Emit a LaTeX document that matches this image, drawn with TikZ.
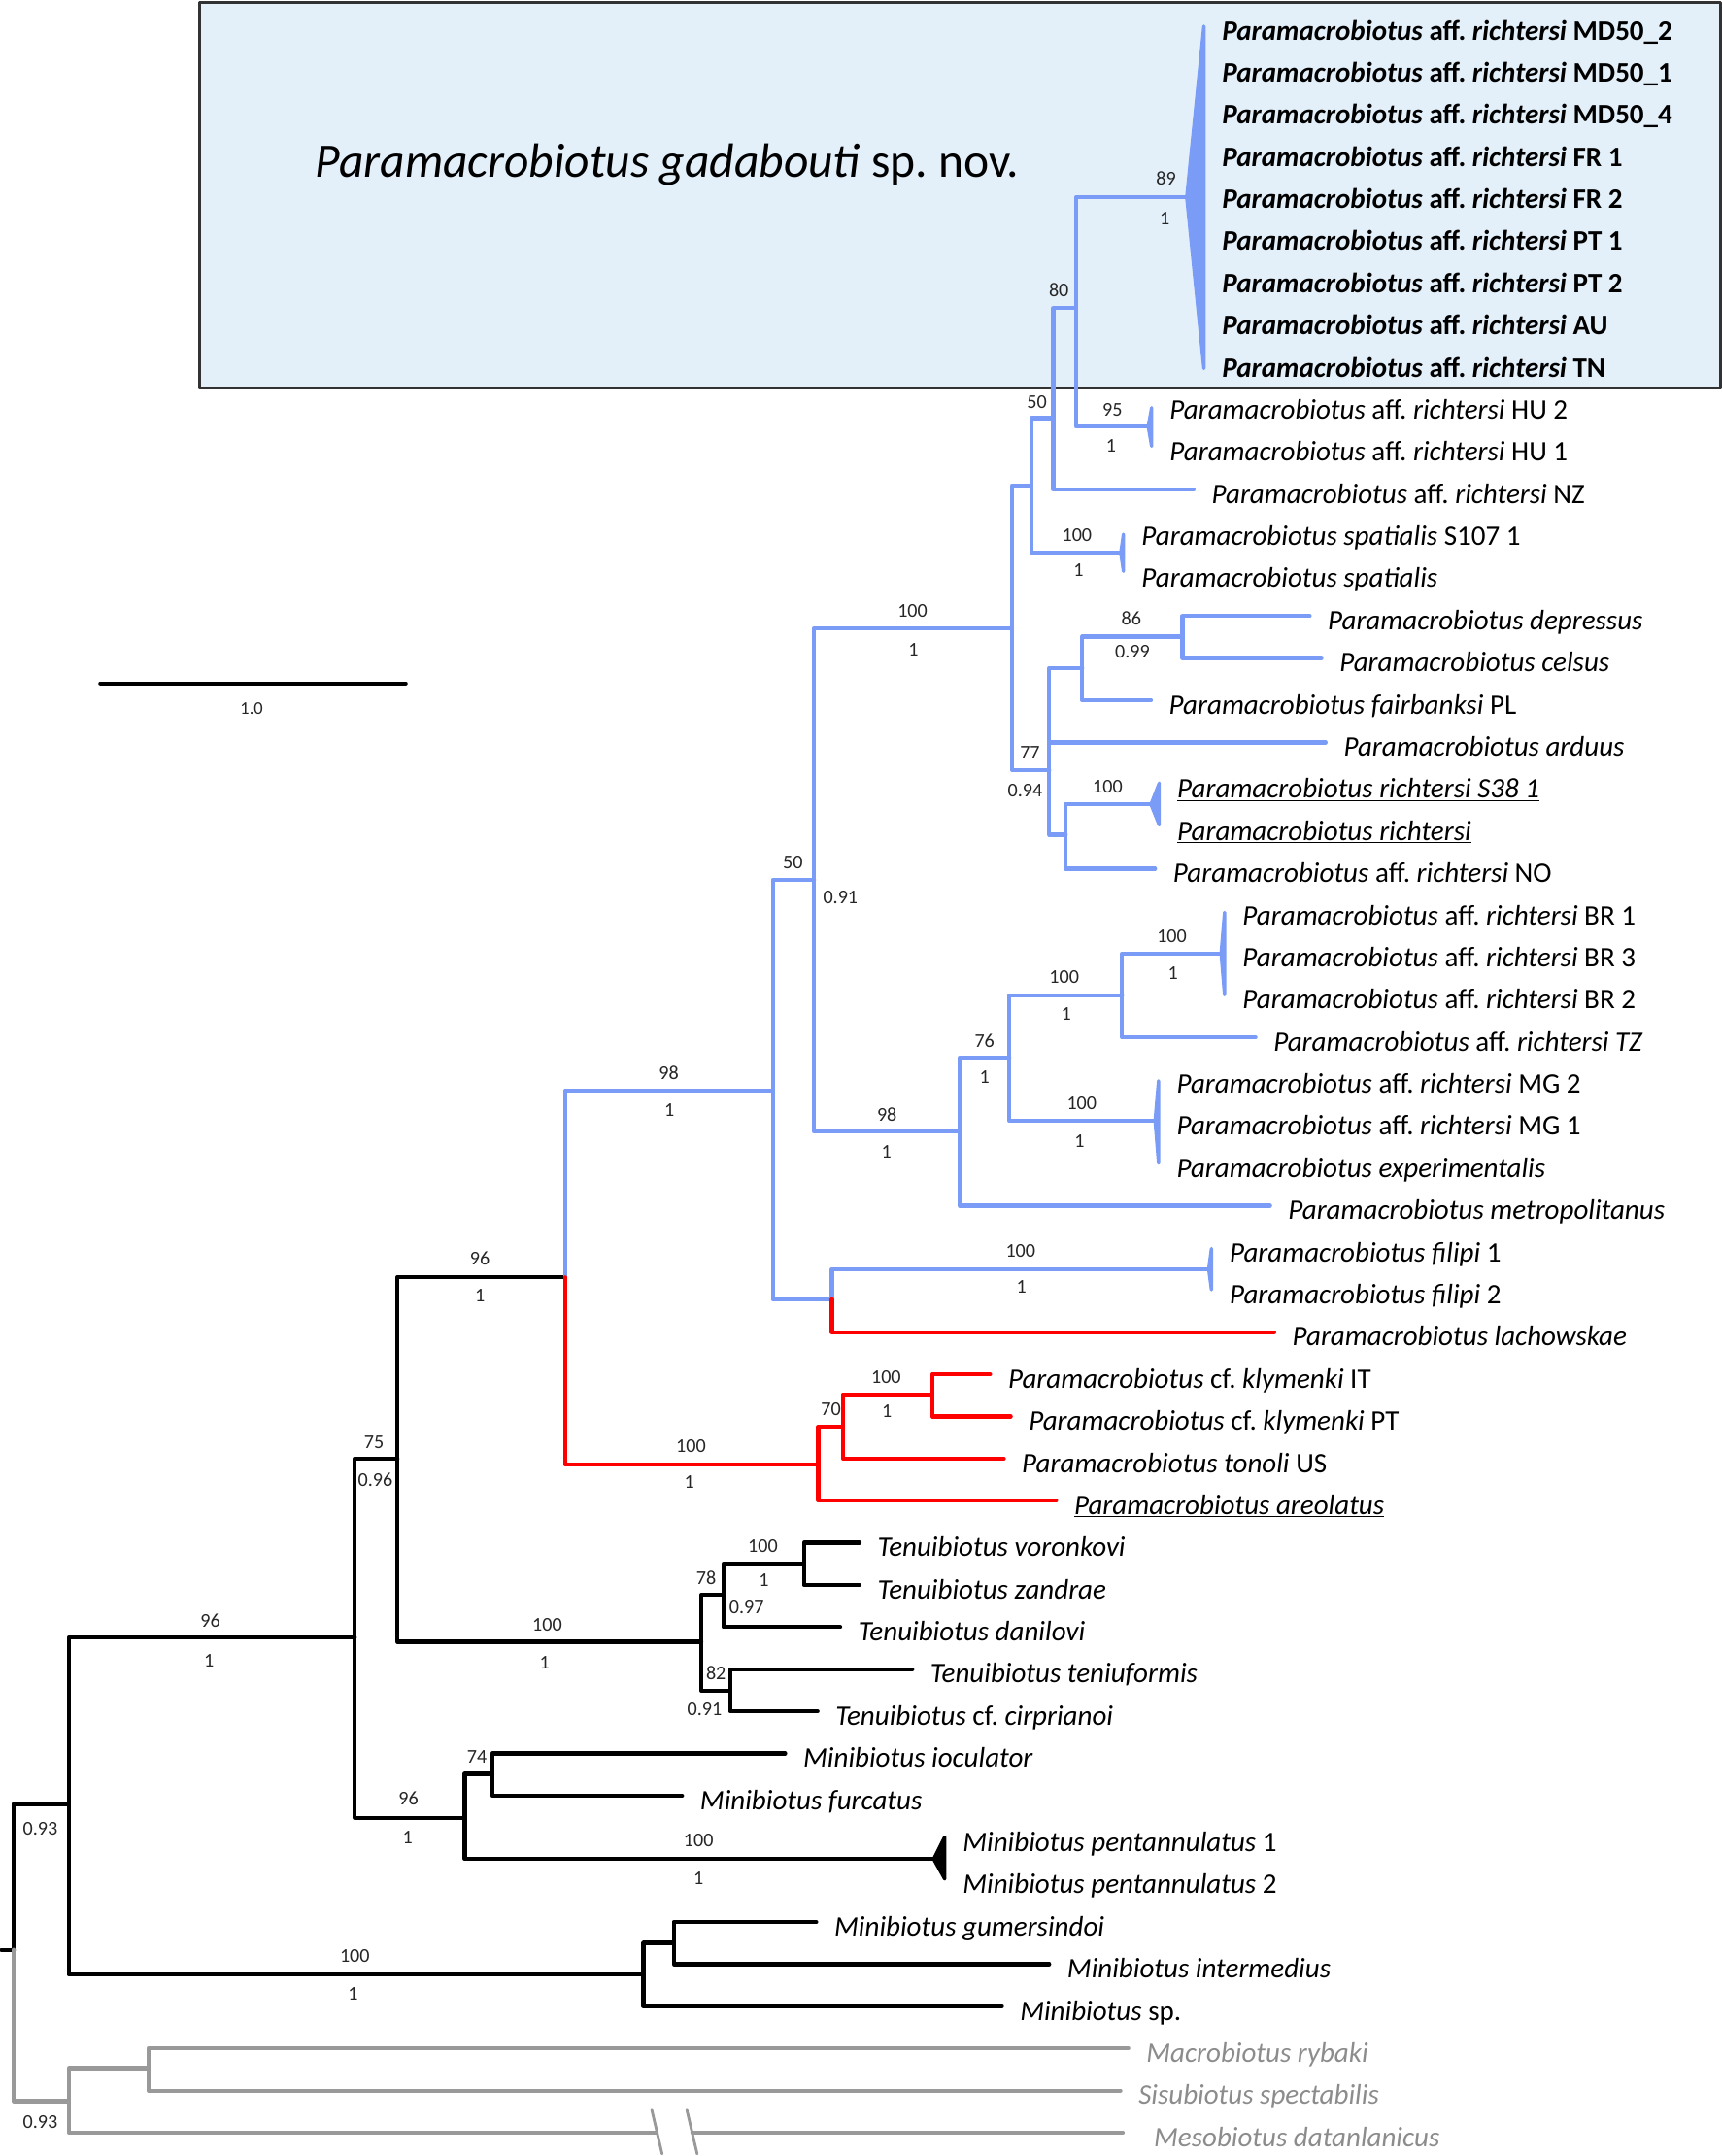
\documentclass[tikz,border=0pt]{standalone}
\usepackage{fontspec}
\setmainfont{Carlito}
\usepackage{tikz}
\usetikzlibrary{calc}
\definecolor{treeblue}{RGB}{122,156,246}
\definecolor{treered}{RGB}{255,0,0}
\definecolor{treegray}{RGB}{153,153,153}
\definecolor{labgray}{RGB}{140,140,140}
\definecolor{boxfill}{RGB}{227,240,250}
\definecolor{boxline}{RGB}{50,50,50}
\newcommand{\tipsize}{\fontsize{20.5}{24}\selectfont}
\newcommand{\supsize}{\fontsize{14.2}{17}\selectfont}
\frenchspacing
\tikzstyle{every path}=[line cap=round,line join=round]
\tikzstyle{br}=[line width=3pt]
\tikzstyle{clps}=[line width=2.4pt]
\tikzstyle{tiplab}=[anchor=base west,inner sep=0pt,xshift=13pt,yshift=-10pt,font=\tipsize]
\tikzstyle{newsp}=[tiplab,font=\tipsize\bfseries]
\tikzstyle{sup}=[inner sep=0pt,font=\supsize,text=black!85]
\begin{document}
\begin{tikzpicture}[x=1pt,y=-1pt]
\useasboundingbox (0,0) rectangle (1252,1568);

\draw [line width=2pt,draw=boxline,fill=boxfill] (145,1.5) rectangle (1251,282.5);
\node [anchor=base west,inner sep=0pt,font=\fontsize{35}{42}\selectfont] (title) at (229,129) {\textit{Paramacrobiotus gadabouti} sp. nov.};

\coordinate (rootstub) at (1,1418);
\coordinate (root) at (10,1418);
\coordinate (nA) at (50,1312);
\coordinate (n96a) at (258,1191);
\coordinate (nMinG) at (468,1436);
\coordinate (n75) at (289,1061);
\coordinate (n96b) at (338,1322);
\coordinate (n96c) at (411,929);
\coordinate (nTen) at (510,1194);
\coordinate (n78) at (526,1160);
\coordinate (n82) at (531,1229.5);
\coordinate (n100d) at (584.6,1137.4);
\coordinate (tDan) at (611,1183.3);
\coordinate (tVor) at (625,1122);
\coordinate (tZan) at (625,1152.7);
\coordinate (tTen) at (663.4,1214);
\coordinate (tCir) at (594.5,1244.6);
\coordinate (n74) at (358,1290);
\coordinate (nPent) at (679,1352);
\coordinate (tIoc) at (571,1275.2);
\coordinate (tFur) at (496,1305.9);
\coordinate (nGI) at (490,1413);
\coordinate (tMsp) at (728.6,1459.1);
\coordinate (tGum) at (593.6,1397.8);
\coordinate (tInt) at (763,1428.4);

\coordinate (n98a) at (562,793);
\coordinate (n50) at (592,640);
\coordinate (nFil) at (605,945);
\coordinate (n100a) at (736,457);
\coordinate (n98b) at (698,823);
\coordinate (n50b) at (750,353);
\coordinate (n77) at (763,560);
\coordinate (n80) at (766,304);
\coordinate (nSpat) at (815,402);
\coordinate (n89) at (782.5,224);
\coordinate (tNZ) at (868,356);
\coordinate (nMD) at (863,143.5);
\coordinate (nHU) at (835,310.2);
\coordinate (n86p) at (787,486);
\coordinate (tArd) at (964,539.9);
\coordinate (nRi) at (775,607);
\coordinate (n86) at (860,463);
\coordinate (tFair) at (837,509.2);
\coordinate (tDep) at (952.4,448);
\coordinate (tCel) at (961,478.6);
\coordinate (nRich) at (837,585);
\coordinate (tNO) at (840,631.8);
\coordinate (n76) at (734,769);
\coordinate (tMet) at (923.6,876.9);
\coordinate (n100b) at (816,724);
\coordinate (nMG) at (840,815);
\coordinate (nBR) at (888,693.5);
\coordinate (tTZ) at (913,754.4);
\coordinate (nFilipi) at (879,923);

\coordinate (nRed) at (595,1065);
\coordinate (tLach) at (926.6,968.8);
\coordinate (n70) at (613,1037.5);
\coordinate (tAre) at (768,1091.4);
\coordinate (n100c) at (678,1014);
\coordinate (tTon) at (730,1060.8);
\coordinate (tKIT) at (720,999.5);
\coordinate (tKPT) at (735,1030.1);

\coordinate (nOut) at (50,1528);
\coordinate (nMS) at (108,1504);
\coordinate (brkL) at (477.5,1551);
\coordinate (brkR) at (503.5,1551);
\coordinate (tMeso) at (816.5,1551);
\coordinate (tRyb) at (820.5,1489.7);
\coordinate (tSis) at (814.8,1520.4);

\draw [br] (rootstub) -- (root);
\draw [br] (root) |- (nA);
\draw [br] (nA) |- (n96a);
\draw [br] (nA) |- (nMinG);
\draw [br] (n96a) |- (n75);
\draw [br] (n96a) |- (n96b);
\draw [br] (n75) |- (n96c);
\draw [br] (n75) |- (nTen);
\draw [br] (nTen) |- (n78);
\draw [br] (nTen) |- (n82);
\draw [br] (n78) |- (n100d);
\draw [br] (n78) |- (tDan);
\draw [br] (n100d) |- (tVor);
\draw [br] (n100d) |- (tZan);
\draw [br] (n82) |- (tTen);
\draw [br] (n82) |- (tCir);
\draw [br] (n96b) |- (n74);
\draw [br] (n96b) |- (nPent);
\draw [br] (n74) |- (tIoc);
\draw [br] (n74) |- (tFur);
\draw [br] (nMinG) |- (nGI);
\draw [br] (nMinG) |- (tMsp);
\draw [br] (nGI) |- (tGum);
\draw [br] (nGI) |- (tInt);
\filldraw [clps] (nPent) -- (687,1336) -- (687,1366.5) -- cycle;

\draw [br,treeblue] (n96c) |- (n98a);
\draw [br,treeblue] (n98a) |- (n50);
\draw [br,treeblue] (n98a) |- (nFil);
\draw [br,treeblue] (n50) |- (n100a);
\draw [br,treeblue] (n50) |- (n98b);
\draw [br,treeblue] (n100a) |- (n50b);
\draw [br,treeblue] (n100a) |- (n77);
\draw [br,treeblue] (n50b) |- (n80);
\draw [br,treeblue] (n50b) |- (nSpat);
\draw [br,treeblue] (n80) |- (n89);
\draw [br,treeblue] (n80) |- (tNZ);
\draw [br,treeblue] (n89) |- (nMD);
\draw [br,treeblue] (n89) |- (nHU);
\draw [br,treeblue] (n77) |- (n86p);
\draw [br,treeblue] (n77) |- (tArd);
\draw [br,treeblue] (n77) |- (nRi);
\draw [br,treeblue] (n86p) |- (n86);
\draw [br,treeblue] (n86p) |- (tFair);
\draw [br,treeblue] (n86) |- (tDep);
\draw [br,treeblue] (n86) |- (tCel);
\draw [br,treeblue] (nRi) |- (nRich);
\draw [br,treeblue] (nRi) |- (tNO);
\draw [br,treeblue] (n98b) |- (n76);
\draw [br,treeblue] (n98b) |- (tMet);
\draw [br,treeblue] (n76) |- (n100b);
\draw [br,treeblue] (n76) |- (nMG);
\draw [br,treeblue] (n100b) |- (nBR);
\draw [br,treeblue] (n100b) |- (tTZ);
\draw [br,treeblue] (nFil) |- (nFilipi);
\filldraw [clps,treeblue] (nMD) -- (875.5,19) -- (875.5,268) -- cycle;
\filldraw [clps,treeblue] (nHU) -- (837.5,296.5) -- (837.5,324.5) -- cycle;
\filldraw [clps,treeblue] (nSpat) -- (817,388.5) -- (817,415.5) -- cycle;
\filldraw [clps,treeblue] (nRich) -- (843,569.5) -- (843,600) -- cycle;
\filldraw [clps,treeblue] (nBR) -- (890.5,663.5) -- (890.5,723.5) -- cycle;
\filldraw [clps,treeblue] (nMG) -- (842.5,786) -- (842.5,846) -- cycle;
\filldraw [clps,treeblue] (nFilipi) -- (881,908) -- (881,938) -- cycle;

\draw [br,treered] (n96c) |- (nRed);
\draw [br,treered] (nFil) |- (tLach);
\draw [br,treered] (nRed) |- (n70);
\draw [br,treered] (nRed) |- (tAre);
\draw [br,treered] (n70) |- (n100c);
\draw [br,treered] (n70) |- (tTon);
\draw [br,treered] (n100c) |- (tKIT);
\draw [br,treered] (n100c) |- (tKPT);

\draw [br,treegray] (root) |- (nOut);
\draw [br,treegray] (nOut) |- (nMS);
\draw [br,treegray] (nOut) |- (brkL);
\draw [br,treegray] (brkR) -- (tMeso);
\draw [br,treegray] (nMS) |- (tRyb);
\draw [br,treegray] (nMS) |- (tSis);
\coordinate (brkA) at (474,1534.5);
\coordinate (brkB) at (481.5,1566.5);
\coordinate (brkC) at (499.5,1534.5);
\coordinate (brkD) at (507,1566.5);
\draw [treegray,line width=2pt] (brkA) -- (brkB);
\draw [treegray,line width=2pt] (brkC) -- (brkD);

\coordinate (sbL) at (73,497);
\coordinate (sbR) at (295,497);
\draw [br] (sbL) -- (sbR);
\node [sup,font=\fontsize{13}{15}\selectfont] (sbLab) at (183,515) {1.0};

\node [newsp] (lMD2) at (875.5,19) {\textit{Paramacrobiotus} aff. \textit{richtersi} MD50\_2};
\node [newsp] (lMD1) at (875.5,49.6) {\textit{Paramacrobiotus} aff. \textit{richtersi} MD50\_1};
\node [newsp] (lMD4) at (875.5,80.3) {\textit{Paramacrobiotus} aff. \textit{richtersi} MD50\_4};
\node [newsp] (lFR1) at (875.5,110.9) {\textit{Paramacrobiotus} aff. \textit{richtersi} FR 1};
\node [newsp] (lFR2) at (875.5,141.6) {\textit{Paramacrobiotus} aff. \textit{richtersi} FR 2};
\node [newsp] (lPT1) at (875.5,172.2) {\textit{Paramacrobiotus} aff. \textit{richtersi} PT 1};
\node [newsp] (lPT2) at (875.5,202.8) {\textit{Paramacrobiotus} aff. \textit{richtersi} PT 2};
\node [newsp] (lAU) at (875.5,233.5) {\textit{Paramacrobiotus} aff. \textit{richtersi} AU};
\node [newsp] (lTN) at (875.5,264.1) {\textit{Paramacrobiotus} aff. \textit{richtersi} TN};
\node [tiplab] (lHU2) at (837.5,294.8) {\textit{Paramacrobiotus} aff. \textit{richtersi} HU 2};
\node [tiplab] (lHU1) at (837.5,325.4) {\textit{Paramacrobiotus} aff. \textit{richtersi} HU 1};
\node [tiplab] (lNZ) at (tNZ) {\textit{Paramacrobiotus} aff. \textit{richtersi} NZ};
\node [tiplab] (lSp1) at (817,386.7) {\textit{Paramacrobiotus spatialis} S107 1};
\node [tiplab] (lSp) at (817,417.3) {\textit{Paramacrobiotus spatialis}};
\node [tiplab] (lDep) at (tDep) {\textit{Paramacrobiotus depressus}};
\node [tiplab] (lCel) at (tCel) {\textit{Paramacrobiotus celsus}};
\node [tiplab] (lFair) at (tFair) {\textit{Paramacrobiotus fairbanksi} PL};
\node [tiplab] (lArd) at (tArd) {\textit{Paramacrobiotus arduus}};
\node [tiplab] (lRi1) at (843,570.5) {\underline{\textit{Paramacrobiotus richtersi S38 1}}};
\node [tiplab] (lRi) at (843,601.2) {\underline{\textit{Paramacrobiotus richtersi}}};
\node [tiplab] (lNO) at (tNO) {\textit{Paramacrobiotus} aff. \textit{richtersi} NO};
\node [tiplab] (lBR1) at (890.5,662.4) {\textit{Paramacrobiotus} aff. \textit{richtersi} BR 1};
\node [tiplab] (lBR3) at (890.5,693.1) {\textit{Paramacrobiotus} aff. \textit{richtersi} BR 3};
\node [tiplab] (lBR2) at (890.5,723.7) {\textit{Paramacrobiotus} aff. \textit{richtersi} BR 2};
\node [tiplab] (lTZ) at (tTZ) {\textit{Paramacrobiotus} aff. \textit{richtersi TZ}};
\node [tiplab] (lMG2) at (842.5,785) {\textit{Paramacrobiotus} aff. \textit{richtersi} MG 2};
\node [tiplab] (lMG1) at (842.5,815.6) {\textit{Paramacrobiotus} aff. \textit{richtersi} MG 1};
\node [tiplab] (lExp) at (842.5,846.3) {\textit{Paramacrobiotus experimentalis}};
\node [tiplab] (lMet) at (tMet) {\textit{Paramacrobiotus metropolitanus}};
\node [tiplab] (lFi1) at (881,907.6) {\textit{Paramacrobiotus filipi} 1};
\node [tiplab] (lFi2) at (881,938.2) {\textit{Paramacrobiotus filipi} 2};
\node [tiplab] (lLach) at (tLach) {\textit{Paramacrobiotus lachowskae}};
\node [tiplab] (lKIT) at (tKIT) {\textit{Paramacrobiotus} cf. \textit{klymenki} IT};
\node [tiplab] (lKPT) at (tKPT) {\textit{Paramacrobiotus} cf. \textit{klymenki} PT};
\node [tiplab] (lTon) at (tTon) {\textit{Paramacrobiotus tonoli} US};
\node [tiplab] (lAre) at (tAre) {\underline{\textit{Paramacrobiotus areolatus}}};
\node [tiplab] (lVor) at (tVor) {\textit{Tenuibiotus voronkovi}};
\node [tiplab] (lZan) at (tZan) {\textit{Tenuibiotus zandrae}};
\node [tiplab] (lDan) at (tDan) {\textit{Tenuibiotus danilovi}};
\node [tiplab] (lTen) at (tTen) {\textit{Tenuibiotus teniuformis}};
\node [tiplab] (lCir) at (tCir) {\textit{Tenuibiotus} cf. \textit{cirprianoi}};
\node [tiplab] (lIoc) at (tIoc) {\textit{Minibiotus ioculator}};
\node [tiplab] (lFur) at (tFur) {\textit{Minibiotus furcatus}};
\node [tiplab] (lPe1) at (687,1336.5) {\textit{Minibiotus pentannulatus} 1};
\node [tiplab] (lPe2) at (687,1367.2) {\textit{Minibiotus pentannulatus} 2};
\node [tiplab] (lGum) at (tGum) {\textit{Minibiotus gumersindoi}};
\node [tiplab] (lInt) at (tInt) {\textit{Minibiotus intermedius}};
\node [tiplab] (lMsp) at (tMsp) {\textit{Minibiotus} sp.};
\node [tiplab,text=labgray] (lRyb) at (tRyb) {\textit{Macrobiotus rybaki}};
\node [tiplab,text=labgray] (lSis) at (tSis) {\textit{Sisubiotus spectabilis}};
\node [tiplab,text=labgray,xshift=9.5pt] (lMeso) at (tMeso) {\textit{Mesobiotus datanlanicus}};

\node [sup] (s89) at (848,130) {89};
\node [sup] (s89p) at (847,159) {1};
\node [sup] (s80) at (770,211) {80};
\node [sup] (s50a) at (754,292.6) {50};
\node [sup] (s95) at (809,298) {95};
\node [sup] (s95p) at (808,324.4) {1};
\node [sup] (s100sp) at (783.2,389) {100};
\node [sup] (s100spp) at (784.4,414.3) {1};
\node [sup] (s86) at (822.7,449.6) {86};
\node [sup] (s86p) at (823.5,474) {0.99};
\node [sup] (s77) at (749,547.5) {77};
\node [sup] (s77p) at (745.5,575.3) {0.94};
\node [sup] (s100ri) at (805.5,572) {100};
\node [sup] (s100a) at (663.6,444.6) {100};
\node [sup] (s100ap) at (664.3,472.2) {1};
\node [sup] (s50b) at (576.6,627.5) {50};
\node [sup] (s50bp) at (611.2,652.5) {0.91};
\node [sup] (s98a) at (486.3,780) {98};
\node [sup] (s98ap) at (486.8,807.6) {1};
\node [sup] (s98b) at (645,810.5) {98};
\node [sup] (s98bp) at (644.6,838) {1};
\node [sup] (s76) at (716,756.8) {76};
\node [sup] (s76p) at (716,783) {1};
\node [sup] (s100b) at (773.9,710.4) {100};
\node [sup] (s100bp) at (775.4,737.5) {1};
\node [sup] (s100br) at (852.2,680.6) {100};
\node [sup] (s100brp) at (853,707.4) {1};
\node [sup] (s100mg) at (786.7,802.3) {100};
\node [sup] (s100mgp) at (785,830) {1};
\node [sup] (s100fi) at (742.2,910) {100};
\node [sup] (s100fip) at (742.8,936) {1};
\node [sup] (s100k) at (644.4,1001.6) {100};
\node [sup] (s100kp) at (645,1026.4) {1};
\node [sup] (s70) at (604.3,1025.2) {70};
\node [sup] (s100r) at (502.5,1051.8) {100};
\node [sup] (s100rp) at (501.3,1078) {1};
\node [sup] (s96c) at (349,915) {96};
\node [sup] (s96cp) at (349,942) {1};
\node [sup] (s75) at (272,1049) {75};
\node [sup] (s75p) at (273,1076) {0.96};
\node [sup] (s100t) at (554.8,1124.8) {100};
\node [sup] (s100tp) at (555.4,1149.5) {1};
\node [sup] (s78) at (513.6,1147.6) {78};
\node [sup] (s78p) at (543,1168.8) {0.97};
\node [sup] (s82) at (520.7,1216.6) {82};
\node [sup] (s82p) at (512.4,1243) {0.91};
\node [sup] (s100te) at (398,1182) {100};
\node [sup] (s100tep) at (396,1209) {1};
\node [sup] (s96a) at (153,1178.4) {96};
\node [sup] (s96ap) at (152,1208) {1};
\node [sup] (s93a) at (29.3,1330) {0.93};
\node [sup] (s93b) at (29.3,1543) {0.93};
\node [sup] (s74) at (346.8,1277.6) {74};
\node [sup] (s96b) at (297,1308.2) {96};
\node [sup] (s96bp) at (296.4,1336.5) {1};
\node [sup] (s100pe) at (508,1338.6) {100};
\node [sup] (s100pep) at (508,1366.2) {1};
\node [sup] (s100mi) at (258,1422.7) {100};
\node [sup] (s100mip) at (256.7,1450) {1};

\end{tikzpicture}
\end{document}
